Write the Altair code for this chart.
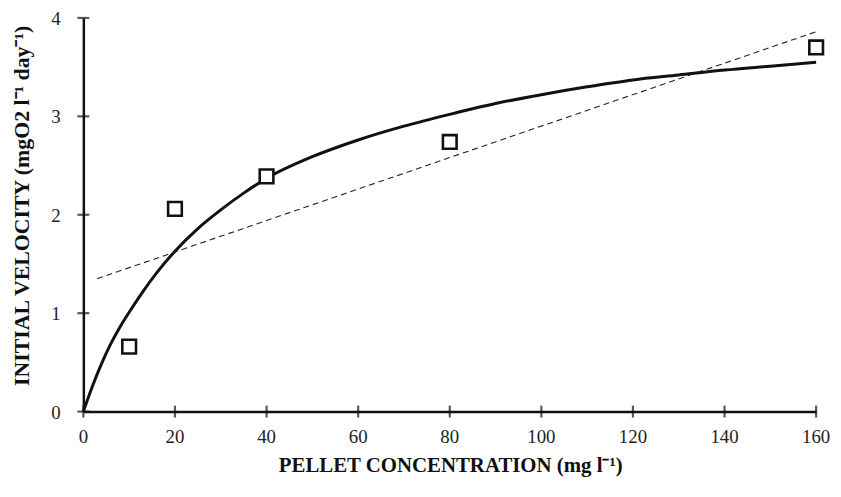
import altair as alt
import pandas as pd

# observed points
obs_x = [10, 20, 40, 80, 160]
obs_y = [0.66, 2.06, 2.39, 2.74, 3.70]

# fitted saturation curve
curve_x = [0, 2, 4, 6, 8, 10, 13, 16, 20, 25, 30, 35, 40, 50, 60, 70, 80, 90, 100, 110, 120, 130, 140, 150, 160]
curve_y = [0.0, 0.26, 0.49, 0.69, 0.86, 1.01, 1.22, 1.41, 1.63, 1.86, 2.05, 2.22, 2.37, 2.59, 2.76, 2.90, 3.02, 3.13, 3.22, 3.30, 3.37, 3.42, 3.47, 3.51, 3.55]

# linear fit (dashed)
lin_x = [3, 160]
lin_y = [1.35, 3.86]

x_ticks = [0, 20, 40, 60, 80, 100, 120, 140, 160]
y_ticks = [0, 1, 2, 3, 4]

FONT = "Liberation Serif"

obs = pd.DataFrame({"x": obs_x, "y": obs_y})
curve = pd.DataFrame({"x": curve_x, "y": curve_y})
lin = pd.DataFrame({"x": lin_x, "y": lin_y})
xt = pd.DataFrame({"x": x_ticks, "y": [0] * len(x_ticks), "label": [str(v) for v in x_ticks]})
yt = pd.DataFrame({"x": [0] * len(y_ticks), "y": y_ticks, "label": [str(v) for v in y_ticks]})

xscale = alt.Scale(domain=[0, 160], nice=False, zero=False)
yscale = alt.Scale(domain=[0, 4], nice=False)

xaxis = alt.Axis(
    values=x_ticks, labels=False, ticks=False, grid=False,
    title="PELLET CONCENTRATION (mg l\u207b\u00b9)",
    domainColor="#111", domainWidth=2.5,
    titleFont=FONT, titleFontSize=21, titleFontWeight="bold", titleColor="#111",
    titleX=370, titleY=54, titleAnchor="middle", titleBaseline="middle", titleAlign="center",
)
yaxis = alt.Axis(
    values=y_ticks, labels=False, ticks=False, grid=False,
    title="INITIAL VELOCITY (mgO2 l\u207b\u00b9 day\u207b\u00b9)",
    domainColor="#111", domainWidth=2.5,
    titleFont=FONT, titleFontSize=22, titleFontWeight="bold", titleColor="#111",
    titleX=-62, titleY=189, titleAngle=-90, titleBaseline="middle", titleAlign="center",
)

X = alt.X("x:Q", scale=xscale, axis=xaxis)
Y = alt.Y("y:Q", scale=yscale, axis=yaxis)

curve_layer = alt.Chart(curve).mark_line(
    color="#111", strokeWidth=3, interpolate="monotone"
).encode(x=X, y=Y)

lin_layer = alt.Chart(lin).mark_line(
    color="#222", strokeWidth=1.1, strokeDash=[6, 4]
).encode(x=X, y=Y)

pts = alt.Chart(obs).mark_point(
    shape="square", size=190, filled=True, fill="white", stroke="#111", strokeWidth=2.6, opacity=1
).encode(x=X, y=Y)

xt_layer = alt.Chart(xt).mark_tick(
    color="#111", size=12, thickness=2.2, orient="vertical"
).encode(x=X, y=Y)

yt_layer = alt.Chart(yt).mark_tick(
    color="#111", size=12, thickness=2.2, orient="horizontal"
).encode(x=X, y=Y)

xlab = alt.Chart(xt).mark_text(
    font=FONT, fontSize=19, color="#222", baseline="top", align="center", dy=17
).encode(x=X, y=Y, text="label:N")

ylab = alt.Chart(yt).mark_text(
    font=FONT, fontSize=19, color="#222", baseline="middle", align="right", dx=-23, dy=1
).encode(x=X, y=Y, text="label:N")

chart = alt.layer(curve_layer, lin_layer, xt_layer, yt_layer, pts, xlab, ylab).properties(
    width=739, height=397,
    background="white",
    autosize=alt.AutoSizeParams(type="none"),
    padding={"left": 76, "top": 8, "right": 17, "bottom": 70},
).configure_view(stroke=None)

chart.save("out.html", embed_options={"renderer": "svg", "actions": False})
